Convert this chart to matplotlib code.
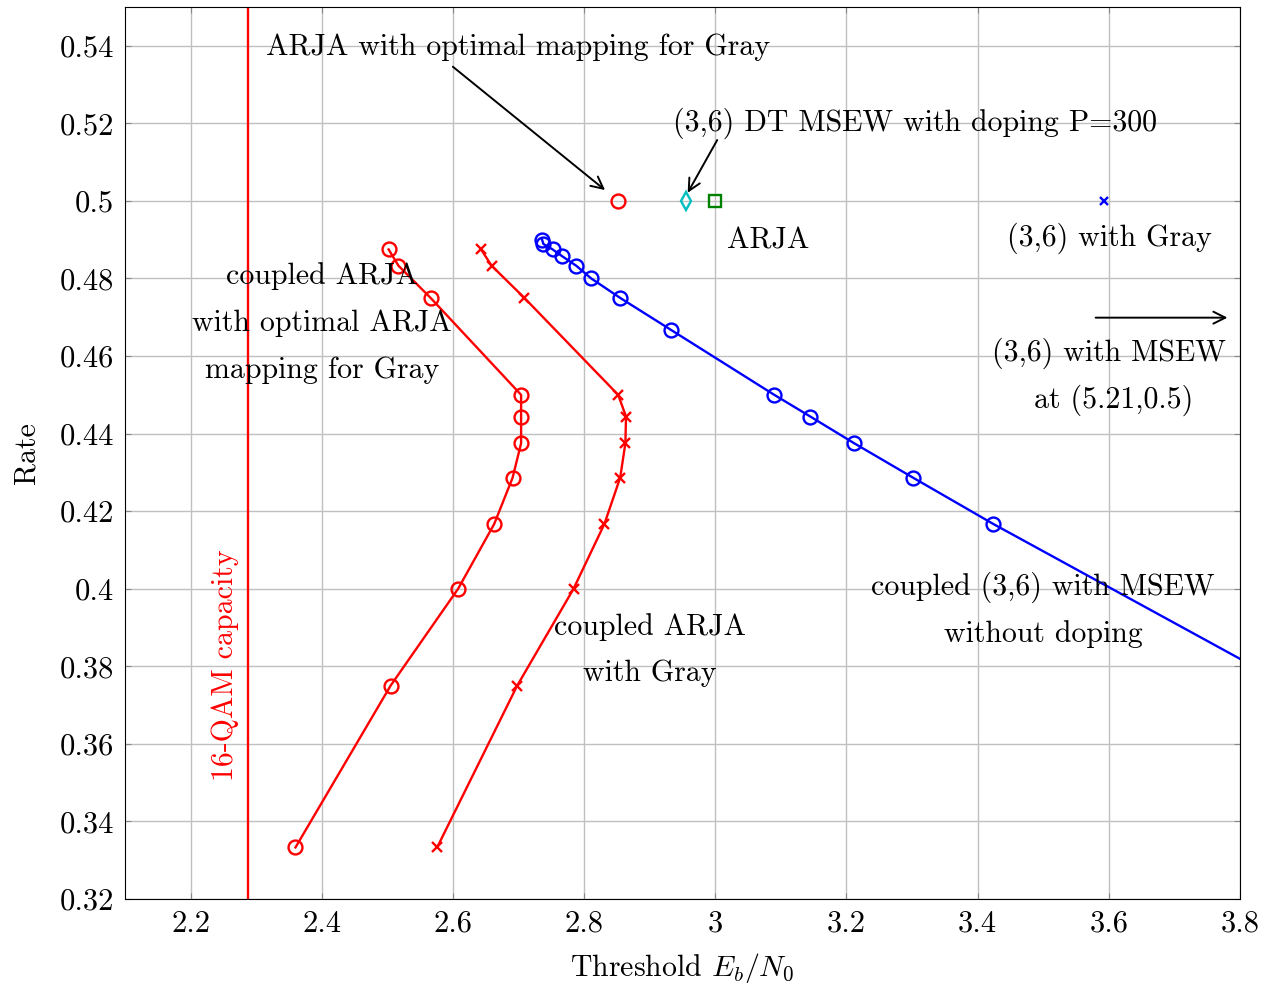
import matplotlib.pyplot as plt
from matplotlib.ticker import FuncFormatter

# --- fonts: computer modern look ---
plt.rcParams["font.family"] = "cmr10"
plt.rcParams["mathtext.fontset"] = "cm"
plt.rcParams["axes.formatter.use_mathtext"] = True
plt.rcParams["font.size"] = 21.5

# --- data ---
# coupled ARJA with optimal ARJA mapping for Gray
opt_x = [2.502, 2.517, 2.566, 2.704, 2.704, 2.704, 2.691, 2.663, 2.608, 2.505, 2.360]
opt_r = [0.4875, 0.4833, 0.475, 0.45, 0.4444, 0.4375, 0.4286, 0.4167, 0.4, 0.375, 0.3333]

# coupled ARJA with Gray
gray_x = [2.643, 2.659, 2.709, 2.852, 2.864, 2.863, 2.855, 2.831, 2.784, 2.698, 2.576]
gray_r = [0.4875, 0.4833, 0.475, 0.45, 0.4444, 0.4375, 0.4286, 0.4167, 0.4, 0.375, 0.3333]

# coupled (3,6) with MSEW without doping
msew_x = [2.736, 2.738, 2.752, 2.767, 2.788, 2.811, 2.855, 2.933, 3.090, 3.145, 3.212, 3.302, 3.424, 3.875]
msew_r = [0.49, 0.4889, 0.4875, 0.4857, 0.4833, 0.48, 0.475, 0.4667, 0.45, 0.4444, 0.4375, 0.4286, 0.4167, 0.375]

# single points at rate 0.5
arja_opt_pt = (2.851, 0.5)
dt_msew_pt = (2.956, 0.5)
arja_pt = (3.0, 0.5)
gray36_pt = (3.593, 0.5)

capacity_x = 2.287

fig = plt.figure(figsize=(12.75, 9.89), dpi=100)
ax = fig.add_axes([0.098, 0.091, 0.8745, 0.9019])

lw = 1.7
ax.axvline(capacity_x, color="red", lw=lw)
ax.plot(opt_x, opt_r, color="red", lw=lw, marker="o", ms=10, mfc="none", mew=1.7)
ax.plot(gray_x, gray_r, color="red", lw=lw, marker="x", ms=7, mew=1.7)
ax.plot(msew_x, msew_r, color="blue", lw=lw, marker="o", ms=10, mfc="none", mew=1.7)

ax.plot(*arja_opt_pt, marker="o", ms=10, mfc="none", mec="red", mew=1.7)
ax.plot(*dt_msew_pt, marker="d", ms=9, mfc="none", mec="#00bfbf", mew=1.7)
ax.plot(*arja_pt, marker="s", ms=9, mfc="none", mec="#008000", mew=1.7)
ax.plot(*gray36_pt, marker="x", ms=6, mec="blue", mew=1.7)

ax.set_xlim(2.1, 3.8)
ax.set_ylim(0.32, 0.55)
ax.set_xticks([2.2, 2.4, 2.6, 2.8, 3.0, 3.2, 3.4, 3.6, 3.8])
ax.set_yticks([0.32, 0.34, 0.36, 0.38, 0.40, 0.42, 0.44, 0.46, 0.48, 0.50, 0.52, 0.54])
fmt = FuncFormatter(lambda v, p: f"{v:g}")
ax.xaxis.set_major_formatter(fmt)
ax.yaxis.set_major_formatter(fmt)
ax.grid(True, color="#c0c0c0", lw=1.0)
ax.set_axisbelow(True)
ax.tick_params(direction="in", top=True, right=True, length=4, color="#888888",
               labelsize=22, pad=8)
for s in ax.spines.values():
    s.set_linewidth(0.8)

ax.set_xlabel(r"Threshold $E_b/N_0$", labelpad=10)
ax.set_ylabel("Rate", labelpad=14)

# --- annotations ---
arw = dict(arrowstyle="->", color="black", lw=1.4, shrinkA=0, shrinkB=0)
ax.annotate("", xy=(2.832, 0.5028), xytext=(2.600, 0.5346), arrowprops=arw)
ax.text(2.7, 0.5395, "ARJA with optimal mapping for Gray", ha="center", va="center")
ax.annotate("", xy=(2.958, 0.5021), xytext=(3.003, 0.5157), arrowprops=arw)
ax.text(3.304, 0.5200, "(3,6) DT MSEW with doping P=300", ha="center", va="center")
ax.text(3.081, 0.4898, "ARJA", ha="center", va="center")
ax.text(3.601, 0.4903, "(3,6) with Gray", ha="center", va="center")
ax.annotate("", xy=(3.781, 0.4699), xytext=(3.580, 0.4699), arrowprops=arw)
ax.text(3.601, 0.4606, "(3,6) with MSEW", ha="center", va="center")
ax.text(3.607, 0.4487, "at (5.21,0.5)", ha="center", va="center")
ax.text(2.401, 0.4806, "coupled ARJA", ha="center", va="center")
ax.text(2.401, 0.4685, "with optimal ARJA", ha="center", va="center")
ax.text(2.401, 0.4563, "mapping for Gray", ha="center", va="center")
ax.text(2.900, 0.3902, "coupled ARJA", ha="center", va="center")
ax.text(2.900, 0.3781, "with Gray", ha="center", va="center")
ax.text(3.500, 0.4005, "coupled (3,6) with MSEW", ha="center", va="center")
ax.text(3.500, 0.3883, "without doping", ha="center", va="center")
ax.text(2.253, 0.3803, "16-QAM capacity", color="red", rotation=90,
        ha="center", va="center")

fig.savefig("out.png", dpi=100)
